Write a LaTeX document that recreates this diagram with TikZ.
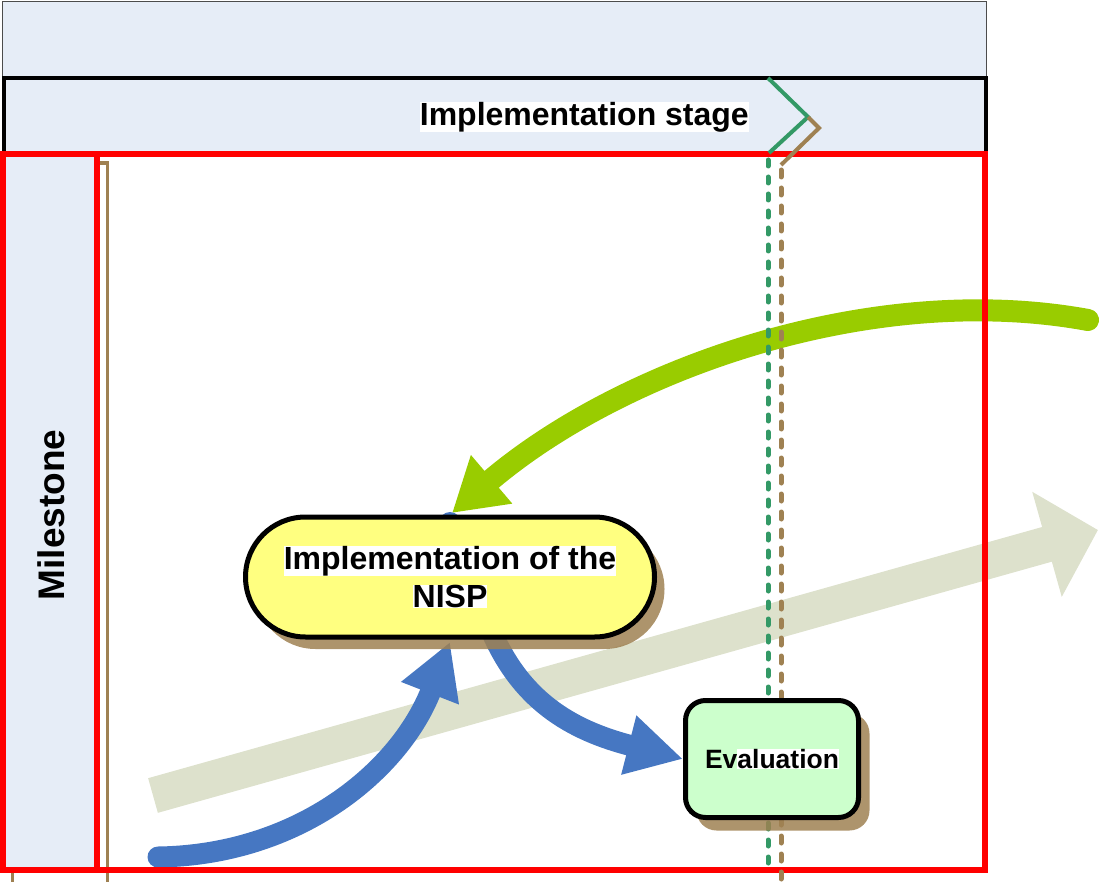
\documentclass[tikz,border=0pt]{standalone}
\usepackage{fontspec}
\setmainfont{Liberation Sans}
\usetikzlibrary{arrows.meta}
\definecolor{lanefill}{HTML}{E6EDF7}
\definecolor{brn}{HTML}{9F8152}
\definecolor{dgreen}{HTML}{339966}
\definecolor{lgreen}{HTML}{99CC00}
\definecolor{arrblue}{HTML}{4677C2}
\definecolor{beige}{HTML}{DDE1CC}
\definecolor{nispfill}{HTML}{FFFF80}
\definecolor{evalfill}{HTML}{CCFFCC}
\newcommand{\hlbox}[1]{{\setlength\fboxsep{0pt}\colorbox{white}{#1}}}
\tikzset{
  redframe/.style={draw=red, line width=5.5pt},
  shadowfill/.style={fill=brn, fill opacity=0.85},
  procbox/.style={draw=black, line width=5pt, align=center, inner sep=0pt},
  bigarrow/.style={line width=22pt},
  dashgreen/.style={dgreen, line width=5pt, line cap=round, dash pattern=on 6pt off 11pt},
  dashbrown/.style={brn, line width=5pt, line cap=round, dash pattern=on 7pt off 11pt},
}
\begin{document}
\begin{tikzpicture}[x=1pt,y=-1pt]
\useasboundingbox (0,0) rectangle (1099,882);
% header bands
\filldraw[fill=lanefill, draw=black!70, line width=1pt] (2,2) rectangle (986,78);
\fill[lanefill] (4,78) rectangle (986,153);
\draw[line width=3.5pt] (4,153) -- (4,78) -- (986,78) -- (986,153);
\node[anchor=east, fill=white, inner sep=0pt, font=\bfseries\fontsize{32}{38}\selectfont] (stage) at (749,117) {Implementation stage};
% milestone lane
\fill[lanefill] (3,154) rectangle (97,870);
\node[rotate=90, font=\bfseries\fontsize{37}{44}\selectfont] (mile) at (51,515) {Milestone};
% brown lane shadow lines
\draw[brn, line width=3.5pt] (99,163) -- (107.5,163) -- (107.5,882);
\draw[brn, line width=3pt] (12,872) -- (12,882);
% coordinates
\coordinate (btail) at (153,795.5);
\coordinate (btip) at (1098,530);
\coordinate (gtail) at (1088,320);
\coordinate (gtip) at (452,513);
\coordinate (b1tail) at (158,857);
\coordinate (b1tip) at (450,642);
\coordinate (b2tail) at (490,628);
\coordinate (b2tip) at (683,759);
% beige arrow
\draw[beige, line width=36pt, -{Triangle[width=106pt,length=53pt]}] (btail) -- (btip);
% green arrow
\draw[lgreen, bigarrow, line cap=round, -{Triangle[width=60pt,length=52pt]}] (gtail) .. controls (870,280) and (620,370) .. (gtip);
% blue arrows
\fill[arrblue] (450,523) circle (11pt);
\draw[arrblue, line width=21pt, line cap=round, -{Triangle[width=58pt,length=55pt]}] (b1tail) .. controls (300,855) and (400,770) .. (b1tip);
\draw[arrblue, line width=21pt, -{Triangle[width=57pt,length=56pt]}] (b2tail) .. controls (520,700) and (570,730) .. (b2tip);
% red frames
\draw[redframe] (3,154) rectangle (985,870);
\draw[redframe] (3,154) rectangle (97,870);
% chevrons and dashed milestone lines
\draw[dgreen, line width=4pt] (768,78) -- (808,117) -- (769,153);
\draw[brn, line width=4pt] (808,117) -- (819,128) -- (781,165);
\draw[dashgreen] (768,160) -- (768,868);
\draw[dashbrown] (781,170) -- (781,882);
% NISP node
\fill[shadowfill, rounded corners=60pt] (255.5,529) rectangle (664.5,649);
\node[procbox, fill=nispfill, rounded corners=60pt, minimum width=409pt, minimum height=120pt, font=\bfseries\fontsize{32}{38}\selectfont] (nisp) at (450,577) {\hlbox{Implementation of the}\\\hlbox{NISP}};
% Evaluation node
\fill[shadowfill, rounded corners=20pt] (696.5,713.5) rectangle (869.5,830.5);
\node[procbox, fill=evalfill, rounded corners=20pt, minimum width=173pt, minimum height=117pt, font=\bfseries\fontsize{26.5}{31}\selectfont] (eval) at (772,759) {Ev\hlbox{aluation}};
\end{tikzpicture}
\end{document}
